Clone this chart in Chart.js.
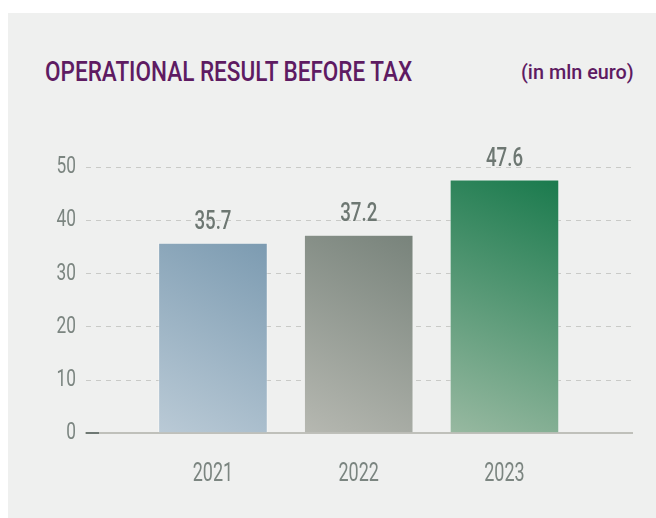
<!DOCTYPE html>
<html>
<head>
<meta charset="utf-8">
<script src="https://cdn.jsdelivr.net/npm/chart.js@4/dist/chart.umd.min.js"></script>
<style>
  html, body { margin: 0; padding: 0; background: #ffffff; }
  body { width: 656px; height: 518px; position: relative; overflow: hidden; font-family: Roboto, sans-serif; }
  .panel { position: absolute; left: 8px; top: 13px; right: 0; bottom: 0; background: #eff0ef; }
  .title { position: absolute; left: 45px; top: 58px; font-size: 28px; line-height: 28px;
           font-weight: 500; color: #5e1b62; white-space: nowrap; transform-origin: 0 0; }
  .unit { position: absolute; right: 22px; top: 62px; font-size: 20px; line-height: 20px;
          font-weight: 500; color: #5e1b62; white-space: nowrap; transform-origin: 100% 0; }
  canvas { position: absolute; left: 0; top: 0; }
</style>
</head>
<body>
<div class="panel"></div>
<div class="title" id="title">OPERATIONAL RESULT BEFORE TAX</div>
<div class="unit" id="unit">(in mln euro)</div>
<canvas id="chart" width="656" height="518"></canvas>
<script>
// Data
const categories = ["2021", "2022", "2023"];
const values = [35.7, 37.2, 47.6];
const yTicks = [0, 10, 20, 30, 40, 50];

// Bar gradients: [bottom-left, top-right]
const barColors = [
  ["#bacad6", "#7c9bb1"],
  ["#b6b8b1", "#78837b"],
  ["#98b9a1", "#1a7a4d"]
];

const fontFamily = "Roboto, sans-serif";
const BAR_W = 109;
const CONDENSE = 0.72;   // the original uses a narrow typeface

// squeeze the header text to the narrow width of the original
function squeeze(id, width) {
  const el = document.getElementById(id);
  el.style.transform = "scaleX(" + (width / el.offsetWidth) + ")";
}
squeeze("title", 367);
squeeze("unit", 113);

function barGradient(ctx) {
  const chart = ctx.chart;
  const i = ctx.dataIndex;
  if (!chart.chartArea || ctx.type !== "data") return barColors[0][1];
  const xs = chart.scales.x, ys = chart.scales.y;
  const cx = xs.getPixelForValue(i);
  const top = ys.getPixelForValue(values[i]);
  const base = ys.getPixelForValue(0);
  const g = chart.ctx.createLinearGradient(cx - BAR_W / 2, base, cx + BAR_W / 2, top);
  g.addColorStop(0, barColors[i][0]);
  g.addColorStop(1, barColors[i][1]);
  return g;
}

// draw all canvas text horizontally condensed
const narrowText = {
  id: "narrowText",
  beforeInit(chart) {
    const c = chart.ctx;
    const fill = c.fillText.bind(c);
    c.fillText = function (text, x, y, maxWidth) {
      c.save();
      c.translate(x, y);
      c.scale(CONDENSE, 1);
      fill(text, 0, 0);
      c.restore();
    };
  }
};

// Value labels above each bar
const valueLabels = {
  id: "valueLabels",
  afterDatasetsDraw(chart) {
    const c = chart.ctx;
    const meta = chart.getDatasetMeta(0);
    c.save();
    c.font = "500 26px " + fontFamily;
    c.fillStyle = "#6d7772";
    c.textAlign = "center";
    c.textBaseline = "alphabetic";
    meta.data.forEach((bar, i) => {
      c.fillText(values[i].toFixed(1), bar.x, bar.y - 14);
    });
    c.restore();
  }
};

new Chart(document.getElementById("chart"), {
  type: "bar",
  data: {
    datasets: [{
      data: values.map((v, i) => ({ x: i, y: v })),
      backgroundColor: barGradient,
      borderColor: "rgba(255,255,255,0.35)",
      borderWidth: 1,
      barThickness: BAR_W
    }]
  },
  options: {
    responsive: false,
    animation: false,
    devicePixelRatio: 1,
    layout: { padding: { top: 167, right: 24, left: 0, bottom: 0 } },
    plugins: {
      legend: { display: false },
      tooltip: { enabled: false }
    },
    scales: {
      x: {
        type: "linear",
        offset: false,
        min: -0.871,
        max: 2.875,
        afterFit: s => { s.height = 84.7; },
        afterBuildTicks: s => { s.ticks = categories.map((c, i) => ({ value: i })); },
        ticks: {
          autoSkip: false,
          maxRotation: 0,
          padding: 26,
          color: "#7b8580",
          font: { family: fontFamily, size: 25 },
          callback: v => categories[v]
        },
        grid: { display: true, drawOnChartArea: false, drawTicks: false },
        border: { display: true, color: "#bfc0ba", width: 2, z: -1 }
      },
      y: {
        min: 0,
        max: 50,
        afterFit: s => { s.width = 86; },
        afterBuildTicks: s => { s.ticks = yTicks.map(v => ({ value: v })); },
        ticks: {
          padding: 10,
          color: "#7b8580",
          font: { family: fontFamily, size: 24 }
        },
        grid: {
          drawTicks: false,
          color: c => c.tick && c.tick.value === 0 ? "#6e7873" : "#c9cac7",
          lineWidth: c => c.tick && c.tick.value === 0 ? 2 : 1
        },
        border: {
          display: false,
          dash: c => c.tick && c.tick.value === 0 ? [13, 2000] : [5, 5]
        }
      }
    }
  },
  plugins: [narrowText, valueLabels]
});
</script>
</body>
</html>
